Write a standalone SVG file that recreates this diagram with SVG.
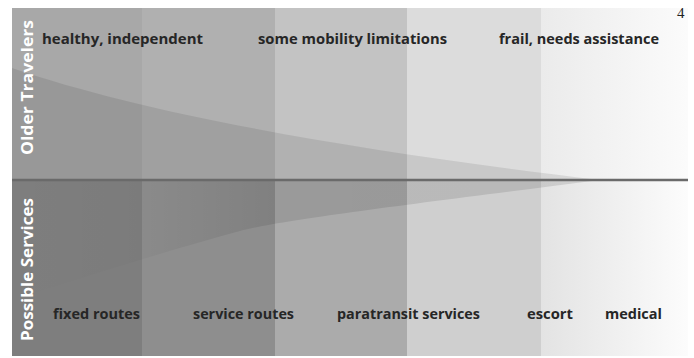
<svg xmlns="http://www.w3.org/2000/svg" width="694" height="358" viewBox="0 0 694 358">
  <defs>
    <linearGradient id="g5top" x1="0" y1="0" x2="1" y2="0">
      <stop offset="0" stop-color="#ebebeb"/>
      <stop offset="1" stop-color="#fbfbfb"/>
    </linearGradient>
    <linearGradient id="g5bot" x1="0" y1="0" x2="1" y2="0">
      <stop offset="0" stop-color="#e3e3e3"/>
      <stop offset="1" stop-color="#fcfcfc"/>
    </linearGradient>
    <linearGradient id="gWedgeBot" gradientUnits="userSpaceOnUse" x1="12" y1="0" x2="600" y2="0">
      <stop offset="0" stop-color="#000000" stop-opacity="0"/>
      <stop offset="0.2" stop-color="#000000" stop-opacity="0.02"/>
      <stop offset="0.45" stop-color="#000000" stop-opacity="0.1"/>
      <stop offset="1" stop-color="#000000" stop-opacity="0.11"/>
    </linearGradient>
  </defs>
  <style>
    .lbl { font-family: "Open Sans", "Liberation Sans", sans-serif; font-weight: 700; font-size: 15px; fill: #262626; }
    .side { font-family: "Open Sans", "Liberation Sans", sans-serif; font-weight: 700; font-size: 16.5px; fill: #ffffff; }
  </style>
  <rect width="694" height="358" fill="#ffffff"/>

  <g id="bands-top">
    <rect x="12" y="8" width="130" height="172" fill="#a8a8a8"/>
    <rect x="142" y="8" width="133" height="172" fill="#b0b0b0"/>
    <rect x="275" y="8" width="132" height="172" fill="#c3c3c3"/>
    <rect x="407" y="8" width="134" height="172" fill="#dcdcdc"/>
    <rect x="541" y="8" width="147" height="172" fill="url(#g5top)"/>
  </g>
  <g id="bands-bottom">
    <rect x="12" y="180" width="130" height="176" fill="#7e7e7e"/>
    <rect x="142" y="180" width="133" height="176" fill="#8e8e8e"/>
    <rect x="275" y="180" width="132" height="176" fill="#ababab"/>
    <rect x="407" y="180" width="134" height="176" fill="#cfcfcf"/>
    <rect x="541" y="180" width="147" height="176" fill="url(#g5bot)"/>
  </g>

  <g id="wedge-travelers">
    <path fill="#000000" fill-opacity="0.09" d="M12,68 C150,115 350,150 600,180 L12,180 Z"/>
  </g>
  <g id="wedge-services">
    <path fill="url(#gWedgeBot)" d="M12,180 L600,180 C420,203 280,220 240,231 C170,250 90,275 12,300 Z"/>
  </g>

  <g id="connectors">
    <line x1="12" y1="180" x2="688" y2="180" stroke="#6a6a6a" stroke-width="2.5"/>
  </g>

  <g id="older-travelers">
    <text class="side" transform="translate(33,155) rotate(-90)" textLength="135" lengthAdjust="spacingAndGlyphs">Older Travelers</text>
  </g>
  <g id="possible-services">
    <text class="side" transform="translate(33,341) rotate(-90)" textLength="143" lengthAdjust="spacingAndGlyphs">Possible Services</text>
  </g>

  <g id="healthy">
    <text class="lbl" x="42" y="44" textLength="161" lengthAdjust="spacingAndGlyphs">healthy, independent</text>
  </g>
  <g id="some-mobility">
    <text class="lbl" x="258" y="44" textLength="189" lengthAdjust="spacingAndGlyphs">some mobility limitations</text>
  </g>
  <g id="frail">
    <text class="lbl" x="499" y="44" textLength="160" lengthAdjust="spacingAndGlyphs">frail, needs assistance</text>
  </g>

  <g id="fixed-routes">
    <text class="lbl" x="53" y="319" textLength="87" lengthAdjust="spacingAndGlyphs">fixed routes</text>
  </g>
  <g id="service-routes">
    <text class="lbl" x="193" y="319" textLength="101" lengthAdjust="spacingAndGlyphs">service routes</text>
  </g>
  <g id="paratransit">
    <text class="lbl" x="337" y="319" textLength="143" lengthAdjust="spacingAndGlyphs">paratransit services</text>
  </g>
  <g id="escort">
    <text class="lbl" x="527" y="319" textLength="46" lengthAdjust="spacingAndGlyphs">escort</text>
  </g>
  <g id="medical">
    <text class="lbl" x="605" y="319" textLength="57" lengthAdjust="spacingAndGlyphs">medical</text>
  </g>

  <g id="page-number">
    <text x="677" y="18" font-family="Liberation Serif, serif" font-size="15" fill="#222222">4</text>
  </g>
</svg>
